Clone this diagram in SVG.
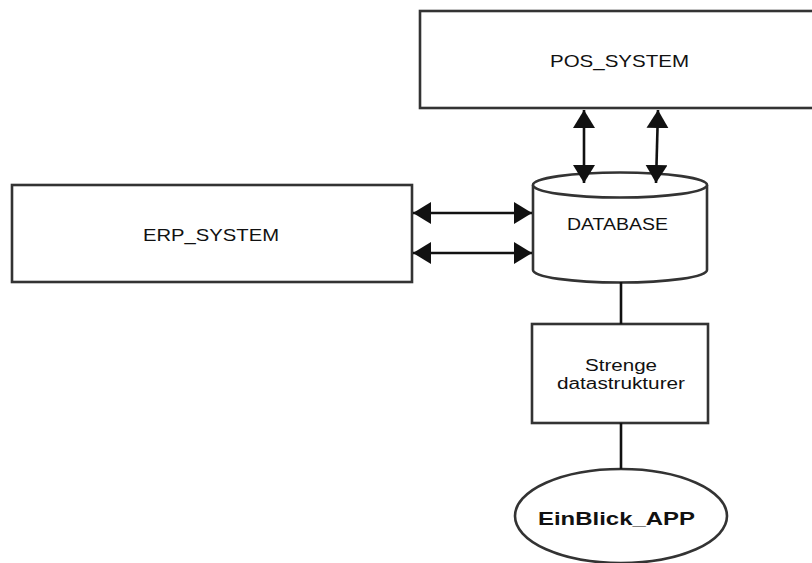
<svg xmlns="http://www.w3.org/2000/svg" width="812" height="563" viewBox="0 0 812 563">
  <style>
    .shape { fill: #ffffff; stroke: #333333; stroke-width: 2.6; }
    .label { font-family: "Liberation Sans", Arial, sans-serif; font-size: 17px; fill: #111111; text-anchor: middle; }
    .small { font-size: 16px; }
    .bold { font-weight: bold; font-size: 19px; }
    .link { stroke: #111111; stroke-width: 2.6; fill: none; }
  </style>
  <defs>
    <marker id="arrow" viewBox="0 0 20 22" refX="18" refY="11" markerWidth="20" markerHeight="22" markerUnits="userSpaceOnUse" orient="auto-start-reverse">
      <path d="M0,0 L18,11 L0,22 Z" fill="#111111"/>
    </marker>
  </defs>
  <rect width="812" height="563" fill="#ffffff"/>

  <g id="pos-system">
    <rect class="shape" x="420" y="11" width="400" height="97"/>
    <text class="label" x="619.5" y="67" textLength="139" lengthAdjust="spacingAndGlyphs">POS_SYSTEM</text>
  </g>

  <g id="erp-system">
    <rect class="shape" x="12" y="185" width="400" height="97"/>
    <text class="label" x="211" y="241" textLength="136" lengthAdjust="spacingAndGlyphs">ERP_SYSTEM</text>
  </g>

  <g id="database">
    <path class="shape" d="M533,185 L533,270 A87,12.5 0 0 0 707,270 L707,185 A87,12.5 0 0 0 533,185 Z"/>
    <path class="shape" d="M533,185 A87,12.5 0 0 0 707,185" fill="none"/>
    <text class="label small" x="617.5" y="230" textLength="101" lengthAdjust="spacingAndGlyphs">DATABASE</text>
  </g>

  <g id="strenge-datastrukturer">
    <rect class="shape" x="532" y="324" width="176" height="99"/>
    <text class="label small" x="621" y="371" textLength="72" lengthAdjust="spacingAndGlyphs">Strenge</text>
    <text class="label small" x="621" y="389" textLength="128" lengthAdjust="spacingAndGlyphs">datastrukturer</text>
  </g>

  <g id="einblick-app">
    <ellipse class="shape" cx="621" cy="516" rx="106" ry="47"/>
    <text class="label bold" x="616.5" y="525" textLength="157" lengthAdjust="spacingAndGlyphs">EinBlick_APP</text>
  </g>

  <g id="connectors">
    <line class="link" x1="584" y1="183" x2="584" y2="110" marker-start="url(#arrow)" marker-end="url(#arrow)"/>
    <line class="link" x1="656" y1="183" x2="658" y2="110" marker-start="url(#arrow)" marker-end="url(#arrow)"/>
    <line class="link" x1="413" y1="213" x2="532" y2="213" marker-start="url(#arrow)" marker-end="url(#arrow)"/>
    <line class="link" x1="413" y1="253" x2="532" y2="253" marker-start="url(#arrow)" marker-end="url(#arrow)"/>
    <line class="link" x1="621" y1="282" x2="621" y2="324"/>
    <line class="link" x1="621" y1="423" x2="621" y2="469"/>
  </g>
</svg>
